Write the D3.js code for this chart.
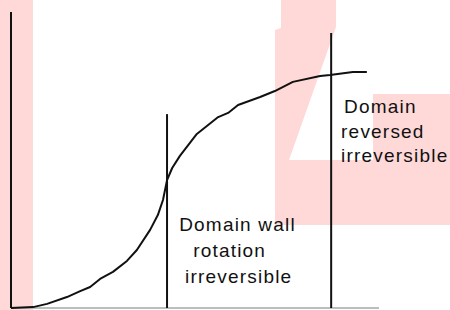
<!DOCTYPE html>
<html>
  <head>
    <meta charset="utf-8">
    <title>Magnetization curve</title>
    <style>
      body {
        margin: 0;
        background: #fff;
      }
      svg {
        display: block;
      }
      .label {
        font-family: 'Liberation Sans', Arial, sans-serif;
        font-size: 19px;
        letter-spacing: 1.2px;
        fill: #111;
      }
    </style>
  </head>
  <body>
    <svg width="450" height="310"></svg>
    <script src="https://d3js.org/d3.v7.min.js"></script>
    <script>
      const svg = d3.select('svg');

      // curve (field H, magnetization M, both 0..100)
      const fieldH = [0, 6.0, 9.8, 15.2, 18.8, 21.5, 24.2, 27.7, 31.5, 34.2, 37.8, 39.9, 41.3,
        42.4, 43.8, 45.9, 50.5, 56.3, 59.0, 61.7, 67.7, 71.7, 76.6, 84.0, 86.7, 92.9, 96.7];
      const magM = [0, 0.3, 1.4, 3.7, 5.7, 7.1, 9.8, 12.2, 15.9, 19.6, 26.4, 31.4, 36.5,
        43.2, 47.3, 51.4, 58.8, 64.5, 65.9, 68.6, 71.3, 73.3, 76.4, 78.4, 78.7, 79.7, 79.7];

      // region boundaries: H position and top of each line
      const boundaryH = [42.4, 87.0];
      const boundaryTop = [65.5, 92.9];

      const regionLabels = [
        ['Domain wall', 'rotation', 'irreversible'],
        ['Domain', 'reversed', 'irreversible']
      ];
      const labelH = [[45.7, 49.5, 47.3], [90.5, 89.7, 89.7]];
      const labelM = [[26.0, 17.2, 8.4], [65.9, 57.4, 49.3]];

      const x = d3.scaleLinear().domain([0, 100]).range([11, 379]);
      const y = d3.scaleLinear().domain([0, 100]).range([308, 12]);

      // pink watermark in the background
      const pink = '#ffd8d8';
      svg.append('rect')
        .attr('x', 0).attr('y', 0)
        .attr('width', 33).attr('height', 310)
        .attr('fill', pink);
      svg.append('path')
        .attr('d', 'M281,0 L336,0 L336,27 L289,160 L373,160 L373,94 L450,94 L450,225 L275,225 L275,30 L281,28 Z')
        .attr('fill', pink);

      // axes
      svg.append('line')
        .attr('x1', x(0)).attr('x2', x(100))
        .attr('y1', y(0)).attr('y2', y(0))
        .attr('stroke', '#bdbdbd')
        .attr('stroke-width', 2);
      svg.append('line')
        .attr('x1', x(0)).attr('x2', x(0))
        .attr('y1', y(0)).attr('y2', y(100))
        .attr('stroke', '#111')
        .attr('stroke-width', 2);

      // boundary lines
      svg.selectAll('line.boundary')
        .data(boundaryH)
        .enter().append('line')
          .attr('class', 'boundary')
          .attr('x1', d => x(d)).attr('x2', d => x(d))
          .attr('y1', y(0))
          .attr('y2', (d, i) => y(boundaryTop[i]))
          .attr('stroke', '#111')
          .attr('stroke-width', 2);

      // magnetization curve
      const pts = fieldH.map((h, i) => [h, magM[i]]);
      svg.append('path')
        .datum(pts)
        .attr('fill', 'none')
        .attr('stroke', '#111')
        .attr('stroke-width', 2)
        .attr('stroke-linejoin', 'round')
        .attr('d', d3.line().x(d => x(d[0])).y(d => y(d[1])));

      // labels
      regionLabels.forEach((lines, r) => {
        svg.append('g').selectAll('text')
          .data(lines)
          .enter().append('text')
            .attr('class', 'label')
            .attr('x', (d, i) => x(labelH[r][i]))
            .attr('y', (d, i) => y(labelM[r][i]))
            .text(d => d);
      });
    </script>
  </body>
</html>
